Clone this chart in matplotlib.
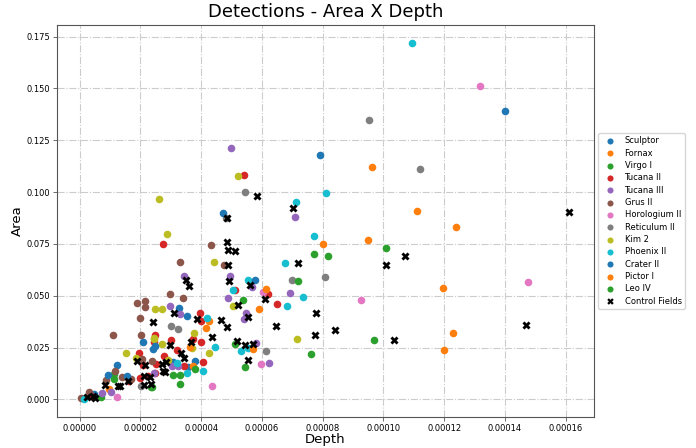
import matplotlib
matplotlib.use("Agg")
import matplotlib.pyplot as plt
import numpy as np

# Depth values in units of 1e-5, Area values as read
sculptor_x = [13.99, 7.92, 3.27, 2.40, 3.08, 1.24, 0.47, 3.58]
sculptor_y = [0.1393, 0.118, 0.044, 0.0243, 0.0182, 0.0168, 0.0024, 0.0158]
fornax_x = [9.64, 11.09, 12.38, 9.49, 8.01, 12.3, 12.0, 5.89, 4.27, 0.98]
fornax_y = [0.112, 0.091, 0.083, 0.0771, 0.0749, 0.0322, 0.0237, 0.0435, 0.0378, 0.0051]
virgo_x = [10.07, 7.72, 5.39, 9.68, 5.45, 3.07, 3.29, 1.12, 0.71]
virgo_y = [0.0733, 0.0702, 0.0482, 0.0285, 0.0158, 0.012, 0.0075, 0.0122, 0.0012]
tuc2_x = [5.42, 2.73, 5.1, 6.20, 6.5, 3.97, 4.0, 4.0, 4.05, 3.73, 3.0, 3.19, 2.79, 2.52,
          3.42, 2.47, 2.47, 2.45, 1.96, 2.10, 1.62, 1.98, 2.25, 0.38]
tuc2_y = [0.1085, 0.0752, 0.0526, 0.0507, 0.0459, 0.0416, 0.0378, 0.0275, 0.0182, 0.0291,
          0.0285, 0.024, 0.0208, 0.0173, 0.0163, 0.0128, 0.0309, 0.0275, 0.0226, 0.0168,
          0.0091, 0.0103, 0.0115, 0.0019]
tuc3_x = [4.97, 7.08, 4.95, 5.66, 6.93, 4.90, 5.48, 5.42, 5.79, 6.24, 3.42, 2.97, 3.31,
          3.24, 3.03, 2.44, 1.04, 0.74]
tuc3_y = [0.1211, 0.088, 0.0597, 0.0542, 0.0513, 0.0488, 0.0416, 0.039, 0.0274, 0.0175,
          0.0595, 0.0453, 0.0413, 0.0162, 0.0162, 0.0128, 0.0035, 0.0032]
grus_x = [4.32, 4.75, 3.31, 2.97, 3.39, 1.89, 2.14, 2.15, 1.98, 1.09, 2.02, 2.06, 2.38,
          1.18, 0.87, 1.41, 1.69, 0.06, 0.31]
grus_y = [0.0746, 0.0648, 0.0664, 0.051, 0.0488, 0.0464, 0.0475, 0.0448, 0.0394, 0.031,
          0.031, 0.0195, 0.0187, 0.0136, 0.0095, 0.0107, 0.0099, 0.0008, 0.0035]
horo_x = [13.17, 14.75, 9.25, 6.04, 5.98, 4.35, 1.24]
horo_y = [0.1512, 0.0567, 0.0482, 0.052, 0.017, 0.0064, 0.0012]
ret_x = [9.54, 11.19, 5.45, 4.82, 6.98, 8.09, 6.13, 3.0, 3.25, 2.03]
ret_y = [0.1346, 0.111, 0.1003, 0.0873, 0.0574, 0.059, 0.0232, 0.0352, 0.0338, 0.0064]
kim_x = [5.20, 2.62, 2.89, 4.42, 5.04, 7.14, 4.26, 2.47, 2.71, 3.76, 2.45, 3.70, 2.71,
         2.90, 2.44, 1.54, 1.85]
kim_y = [0.1077, 0.0965, 0.0798, 0.0664, 0.0451, 0.0293, 0.0224, 0.0434, 0.0434, 0.032,
         0.0298, 0.025, 0.0267, 0.019, 0.0291, 0.0224, 0.02]
phx_x = [10.93, 8.11, 7.12, 7.72, 6.77, 5.53, 5.06, 7.35, 6.82, 4.2, 5.53, 5.32, 4.47,
         4.06, 3.22, 3.54, 0.14]
phx_y = [0.172, 0.0995, 0.0952, 0.079, 0.066, 0.0576, 0.0528, 0.0493, 0.0451, 0.0392,
         0.0248, 0.0232, 0.0254, 0.0136, 0.0176, 0.013, 0.0003]
crater_x = [4.71, 5.76, 3.55, 2.48, 3.81, 2.08, 0.92, 1.57]
crater_y = [0.0899, 0.0576, 0.0402, 0.0256, 0.0186, 0.0275, 0.0119, 0.0115]
pictor_x = [11.95, 6.14, 4.16, 5.72, 3.62, 3.72]
pictor_y = [0.054, 0.0531, 0.0344, 0.0245, 0.0253, 0.016]
leo_x = [8.16, 7.19, 7.62, 5.13, 3.81, 3.31, 2.38, 1.12, 2.36]
leo_y = [0.069, 0.0571, 0.0219, 0.0267, 0.0149, 0.0119, 0.0061, 0.0099, 0.0058]
ctrl_x = [16.12, 10.72, 10.07, 5.85, 7.01, 4.86, 4.86, 4.90, 5.12, 7.19, 4.90, 4.93, 5.61,
          6.09, 5.2, 7.79, 5.53, 4.67, 4.84, 6.46, 8.40, 7.75, 4.37, 10.36, 5.19, 5.44,
          5.72, 5.55, 3.51, 3.60, 3.09, 3.87, 2.42, 3.66, 2.99, 3.33, 3.43, 2.71, 2.73,
          2.82, 2.85, 1.88, 2.16, 0.83, 1.26, 1.34, 1.60, 2.11, 2.30, 2.35, 2.13, 0.23,
          0.45, 0.50, 14.70]
ctrl_y = [0.0902, 0.069, 0.0648, 0.0982, 0.0925, 0.0873, 0.0758, 0.0722, 0.0714, 0.0656,
          0.0648, 0.0571, 0.055, 0.0485, 0.0456, 0.0419, 0.0398, 0.0381, 0.0349, 0.0355,
          0.0334, 0.031, 0.0301, 0.0288, 0.028, 0.0261, 0.0267, 0.0192, 0.0574, 0.0547,
          0.0418, 0.0387, 0.0374, 0.0277, 0.0264, 0.0223, 0.0199, 0.017, 0.0138, 0.0131,
          0.0182, 0.0184, 0.0167, 0.0071, 0.0067, 0.0064, 0.009, 0.0071, 0.0108, 0.0075,
          0.0115, 0.001, 0.0016, 0.0008, 0.036]

series = [
    ("Sculptor", sculptor_x, sculptor_y),
    ("Fornax", fornax_x, fornax_y),
    ("Virgo I", virgo_x, virgo_y),
    ("Tucana II", tuc2_x, tuc2_y),
    ("Tucana III", tuc3_x, tuc3_y),
    ("Grus II", grus_x, grus_y),
    ("Horologium II", horo_x, horo_y),
    ("Reticulum II", ret_x, ret_y),
    ("Kim 2", kim_x, kim_y),
    ("Phoenix II", phx_x, phx_y),
    ("Crater II", crater_x, crater_y),
    ("Pictor I", pictor_x, pictor_y),
    ("Leo IV", leo_x, leo_y),
]
colors = plt.rcParams['axes.prop_cycle'].by_key()['color']

fig = plt.figure(figsize=(6.96, 4.48), dpi=100)
ax = fig.add_axes([0.082, 0.07, 0.771, 0.874])
for i, (name, xs, ys) in enumerate(series):
    ax.scatter(np.array(xs) * 1e-5, ys, s=30, color=colors[i % 10], label=name,
               linewidths=0, zorder=3)
ax.scatter(np.array(ctrl_x) * 1e-5, ctrl_y, s=34, marker='X', color='black',
           label='Control Fields', linewidths=0, zorder=4)

ax.grid(True, linestyle='-.', color='#cccccc', linewidth=0.8)
ax.set_axisbelow(True)
for sp in ax.spines.values():
    sp.set_color('#555555')
ax.tick_params(labelsize=6, length=3, width=0.6, color='#555555', pad=2)
ax.set_title("Detections - Area X Depth", fontsize=13)
ax.set_xlabel("Depth", fontsize=9.5, labelpad=0)
ax.set_ylabel("Area", fontsize=9.5, labelpad=2)
ax.set_yticks([0, 0.025, 0.05, 0.075, 0.1, 0.125, 0.15, 0.175])
ax.set_xticks(np.arange(0, 0.000161, 0.00002))
ax.xaxis.set_major_formatter(matplotlib.ticker.FormatStrFormatter('%.5f'))
ax.yaxis.set_major_formatter(matplotlib.ticker.FormatStrFormatter('%.3f'))
ax.legend(loc='center left', bbox_to_anchor=(1.0, 0.5), fontsize=6, markerscale=0.8,
          frameon=True, borderaxespad=0.5, labelspacing=0.4)
fig.savefig("out.png", dpi=100)
